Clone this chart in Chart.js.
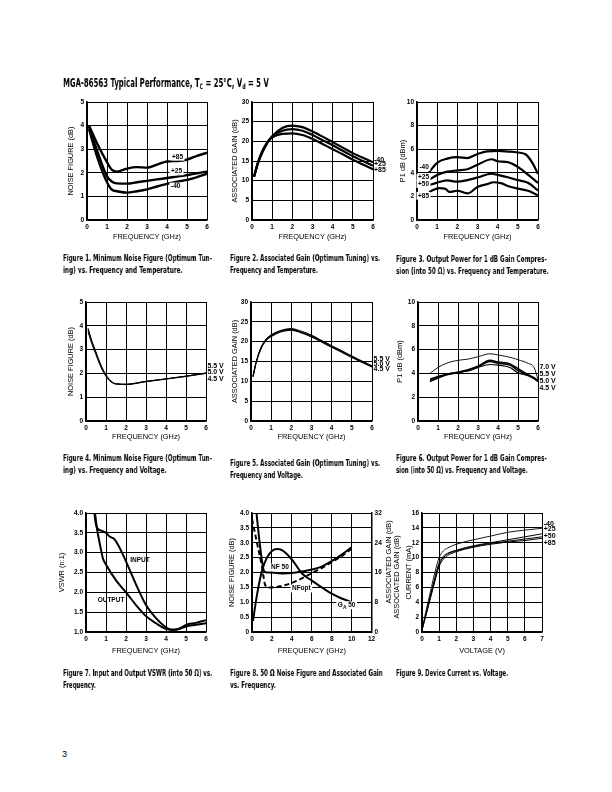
<!DOCTYPE html>
<html><head><meta charset="utf-8">
<script src="https://cdn.jsdelivr.net/npm/chart.js@4"></script>
<style>
body{margin:0;background:#fff;width:612px;height:792px;position:relative;overflow:hidden;}
canvas{position:absolute;}
.cap,.ttl{position:absolute;font-family:"Liberation Sans Narrow","DejaVu Sans Condensed",sans-serif;font-weight:bold;color:#000;white-space:nowrap;}
.cap{font-size:8.5px;line-height:12px;}
.cap span,.ttl span{display:inline-block;transform-origin:0 50%;will-change:transform;}
.ttl{font-size:11.5px;left:63px;top:76px;}
.ttl sub{font-size:7.5px;vertical-align:-2px;}
.pg{position:absolute;left:62px;top:749px;font:9px "Liberation Sans Narrow",sans-serif;color:#000;}
</style></head><body>
<div class="ttl"><span data-w="206">MGA-86563 Typical Performance, T<sub>C</sub> = 25°C, V<sub>d</sub> = 5 V</span></div>
<canvas id="c1"></canvas><canvas id="c2"></canvas><canvas id="c3"></canvas>
<canvas id="c4"></canvas><canvas id="c5"></canvas><canvas id="c6"></canvas>
<canvas id="c7"></canvas><canvas id="c8"></canvas><canvas id="c9"></canvas>
<div class="cap" style="left:63px;top:252px"><span data-w="149">Figure 1. Minimum Noise Figure (Optimum Tun-</span><br><span data-w="120">ing) vs. Frequency and Temperature.</span></div>
<div class="cap" style="left:230px;top:252px"><span data-w="150">Figure 2. Associated Gain (Optimum Tuning) vs.</span><br><span data-w="88">Frequency and Temperature.</span></div>
<div class="cap" style="left:396px;top:253px"><span data-w="151">Figure 3. Output Power for 1 dB Gain Compres-</span><br><span data-w="153">sion (into 50 Ω) vs. Frequency and Temperature.</span></div>
<div class="cap" style="left:63px;top:452px"><span data-w="149">Figure 4. Minimum Noise Figure (Optimum Tun-</span><br><span data-w="104">ing) vs. Frequency and Voltage.</span></div>
<div class="cap" style="left:230px;top:457px"><span data-w="150">Figure 5. Associated Gain (Optimum Tuning) vs.</span><br><span data-w="73">Frequency and Voltage.</span></div>
<div class="cap" style="left:396px;top:452px"><span data-w="151">Figure 6. Output Power for 1 dB Gain Compres-</span><br><span data-w="132">sion (into 50 Ω) vs. Frequency and Voltage.</span></div>
<div class="cap" style="left:63px;top:667px"><span data-w="149">Figure 7. Input and Output VSWR (into 50 Ω) vs.</span><br><span data-w="33">Frequency.</span></div>
<div class="cap" style="left:230px;top:667px"><span data-w="153">Figure 8. 50 Ω Noise Figure and Associated Gain</span><br><span data-w="46">vs. Frequency.</span></div>
<div class="cap" style="left:396px;top:667px"><span data-w="112">Figure 9. Device Current vs. Voltage.</span></div>
<div class="pg">3</div>
<script>
// Fig 1 - noise figure vs frequency & temperature
const f1Freq = [0.1, 0.5, 1.0, 1.25, 1.5, 2.0, 2.5, 3.0, 3.5, 4.0, 4.5, 5.0, 5.5, 6.0];
const f1Nf85 = [4.0, 3.25, 2.45, 2.12, 2.05, 2.18, 2.24, 2.22, 2.35, 2.48, 2.5, 2.56, 2.72, 2.85];
const f1Nf25 = [3.95, 2.95, 1.85, 1.62, 1.55, 1.54, 1.6, 1.66, 1.72, 1.78, 1.84, 1.9, 1.98, 2.05];
const f1NfM40 = [3.85, 2.7, 1.6, 1.28, 1.22, 1.16, 1.22, 1.3, 1.42, 1.53, 1.62, 1.7, 1.82, 1.96];

// Fig 2 - associated gain vs frequency & temperature
const f2Freq = [0.1, 0.3, 0.5, 0.75, 1.0, 1.5, 2.0, 2.5, 3.0, 3.5, 4.0, 4.5, 5.0, 5.5, 6.0];
const f2GM40 = [11, 14.5, 17, 19.5, 21.3, 23.4, 24.0, 23.6, 22.5, 21.2, 19.8, 18.4, 17.0, 15.8, 14.7];
const f2G25 = [11, 14.6, 17.2, 19.6, 21.2, 22.7, 23.1, 22.7, 21.6, 20.3, 19.0, 17.6, 16.2, 15.0, 13.8];
const f2G85 = [11, 14.7, 17.4, 19.7, 21.0, 21.9, 22.0, 21.6, 20.6, 19.3, 18.0, 16.7, 15.3, 14.1, 12.9];

// Fig 3 - P1dB vs frequency & temperature
const f3FreqM40 = [0.6, 1, 1.5, 2, 2.5, 3, 3.5, 4, 4.5, 5, 5.4, 5.7, 6];
const f3PM40 = [4.05, 4.85, 5.2, 5.32, 5.25, 5.6, 5.82, 5.85, 5.8, 5.72, 5.55, 4.9, 3.9];
const f3Freq = [0.6, 1, 1.5, 2, 2.5, 3, 3.7, 4, 4.5, 5, 5.5, 6];
const f3P25 = [3.4, 3.82, 4.1, 4.2, 4.3, 4.68, 5.15, 4.98, 4.9, 4.5, 3.85, 3.15];
const f3P50 = [2.95, 3.17, 3.35, 3.25, 3.38, 3.6, 3.92, 3.82, 3.62, 3.38, 3.15, 2.5];
const f3Freq85 = [0.6, 0.8, 1.1, 1.4, 1.6, 2, 2.5, 3, 3.5, 3.8, 4.2, 4.5, 5, 5.5, 6];
const f3P85 = [2.35, 2.55, 2.7, 2.65, 2.38, 2.48, 2.25, 2.8, 3.05, 3.2, 3.1, 2.88, 2.66, 2.48, 2.1];

// Fig 4 - noise figure vs frequency & voltage
const f4Freq = [0.1, 0.3, 0.5, 0.75, 1, 1.25, 1.5, 2, 3, 4, 5, 6];
const f4V55 = [3.9, 3.35, 2.9, 2.35, 1.95, 1.68, 1.57, 1.55, 1.67, 1.77, 1.89, 2.02];
const f4V50 = [3.85, 3.3, 2.85, 2.3, 1.9, 1.66, 1.56, 1.54, 1.66, 1.77, 1.88, 2.01];
const f4V45 = [3.75, 3.22, 2.78, 2.25, 1.87, 1.64, 1.55, 1.53, 1.65, 1.76, 1.87, 2.0];

// Fig 5 - associated gain vs frequency & voltage
const f5Freq = [0.1, 0.25, 0.5, 0.75, 1, 1.5, 2, 2.5, 3, 3.5, 4, 4.5, 5, 5.5, 6];
const f5V55 = [11.3, 14.8, 18.6, 20.6, 21.7, 22.9, 23.3, 22.6, 21.6, 20.3, 19.0, 17.7, 16.4, 15.1, 13.9];
const f5V50 = [11.2, 14.7, 18.5, 20.5, 21.5, 22.7, 23.1, 22.4, 21.4, 20.1, 18.8, 17.5, 16.2, 14.9, 13.7];
const f5V45 = [11.1, 14.6, 18.3, 20.3, 21.3, 22.5, 22.9, 22.2, 21.2, 19.9, 18.6, 17.3, 16.0, 14.8, 13.6];

// Fig 6 - P1dB vs frequency & voltage
const f6Freq = [0.6, 1, 1.5, 2, 2.5, 3, 3.6, 4, 4.6, 5, 5.5, 5.8, 6];
const f6V70 = [4.0, 4.5, 4.9, 5.1, 5.2, 5.4, 5.65, 5.55, 5.35, 5.15, 4.85, 4.5, 3.5];
const f6V55 = [3.5, 3.75, 3.95, 4.1, 4.3, 4.6, 5.1, 4.95, 4.8, 4.4, 3.9, 3.65, 3.4];
const f6V50 = [3.4, 3.7, 3.95, 4.1, 4.25, 4.55, 5.0, 4.85, 4.7, 4.25, 3.85, 3.6, 3.35];
const f6V45 = [3.3, 3.6, 3.9, 4.05, 4.2, 4.5, 4.75, 4.7, 4.5, 4.05, 3.8, 3.55, 3.3];

// Fig 7 - VSWR
const f7InFreq = [0.42, 0.5, 0.6, 0.8, 1.0, 1.2, 1.4, 1.6, 1.8, 2.0, 2.5, 3.0, 3.5, 4.0, 4.3, 4.6, 5.0, 5.5, 6.0];
const f7In = [4.0, 3.7, 3.6, 3.55, 3.5, 3.4, 3.35, 3.2, 3.0, 2.78, 2.2, 1.68, 1.35, 1.12, 1.06, 1.07, 1.14, 1.18, 1.22];
const f7OutFreq = [0.45, 0.55, 0.7, 0.85, 1.0, 1.5, 2.0, 2.5, 3.0, 3.5, 4.0, 4.4, 4.8, 5.0, 5.5, 6.0];
const f7Out = [4.0, 3.6, 3.2, 2.85, 2.7, 2.3, 2.0, 1.68, 1.4, 1.22, 1.08, 1.05, 1.12, 1.18, 1.23, 1.3];

// Fig 8 - 50 ohm NF, NFopt and associated gain
const f8Nf50Freq = [0.45, 0.7, 1.0, 1.2, 1.5, 2, 3, 4, 5, 6, 7, 8, 9, 10];
const f8Nf50 = [4.0, 3.2, 2.4, 2.05, 2.0, 2.0, 1.97, 1.98, 2.03, 2.1, 2.2, 2.38, 2.6, 2.85];
const f8NfoptFreq = [0, 0.5, 1.0, 1.3, 1.6, 2, 3, 4, 5, 6, 7, 8, 9, 10];
const f8Nfopt = [3.8, 3.0, 2.2, 1.6, 1.5, 1.5, 1.55, 1.65, 1.8, 1.98, 2.15, 2.35, 2.55, 2.8];
const f8GaFreq = [0.1, 0.5, 1.0, 1.5, 2, 2.5, 3, 4, 5, 6, 7, 8, 9, 10];
const f8Ga50 = [3, 10, 16.5, 20, 21.8, 22.3, 22, 19.5, 15.8, 13.8, 12, 10.3, 9, 8];

// Fig 9 - device current vs voltage
const f9Volt = [0, 0.25, 0.5, 0.75, 1, 1.25, 1.5, 2, 3, 4, 5, 6, 7];
const f9IM40 = [0.3, 3, 5.5, 8, 10.0, 10.9, 11.3, 11.8, 12.4, 12.9, 13.4, 13.7, 13.95];
const f9I25 = [0.3, 2.6, 5.0, 7.3, 9.3, 10.2, 10.6, 11.0, 11.6, 12.0, 12.4, 12.8, 13.2];
const f9I50 = [0.3, 2.5, 4.8, 7.0, 9.1, 10.0, 10.5, 10.9, 11.5, 11.9, 12.2, 12.5, 12.8];
const f9I85 = [0.3, 2.4, 4.6, 6.8, 8.8, 9.8, 10.3, 10.8, 11.4, 11.8, 12.1, 12.3, 12.6];

const FAM = '"Liberation Sans", Arial, sans-serif';
const TICK = {size: 6.5, weight: 'bold', family: FAM};
const TTL = {size: 7.4, family: FAM};

// fit caption lines to their measured widths
document.querySelectorAll('[data-w]').forEach(s => {
    s.style.transform = 'scaleX(' + (+s.dataset.w / s.offsetWidth) + ')';
});

function drawParts(ctx, parts, x, y, size, align, bg, bold) {
    const fonts = parts.map(p => (bold ? 'bold ' : '') + (p.sub ? size * 0.75 : size) + 'px ' + FAM);
    const widths = parts.map((p, i) => { ctx.font = fonts[i]; return ctx.measureText(p.t).width; });
    const total = widths.reduce((a, b) => a + b, 0);
    let sx = align === 'center' ? x - total / 2 : align === 'right' ? x - total : x;
    if (bg) {
        ctx.fillStyle = '#fff';
        ctx.fillRect(sx - 1.5, y - size * 0.6, total + 3, size * 1.2);
    }
    ctx.fillStyle = '#000';
    ctx.textAlign = 'left';
    ctx.textBaseline = 'middle';
    parts.forEach((p, i) => {
        ctx.font = fonts[i];
        ctx.fillText(p.t, sx, y + (p.sub ? size * 0.3 : 0));
        sx += widths[i];
    });
}

const txtPlugin = {
    id: 'txt',
    afterDraw(chart, args, opts) {
        const ctx = chart.ctx;
        const org = opts.origin || [0, 0];
        (opts.items || []).forEach(it => {
            let px, py;
            if (it.ax !== undefined) { px = it.ax - org[0]; py = it.ay - org[1]; }
            else {
                px = chart.scales.x.getPixelForValue(it.x);
                py = chart.scales[it.axis || 'y'].getPixelForValue(it.y);
            }
            const parts = it.parts || [{t: it.t}];
            ctx.save();
            ctx.translate(px, py);
            if (it.rot) ctx.rotate(it.rot);
            drawParts(ctx, parts, 0, 0, it.size || 6.5, it.align || 'left', it.bg, it.bold !== false);
            ctx.restore();
        });
    }
};

function axX(min, max, step, title) {
    return {
        type: 'linear', min, max,
        ticks: {stepSize: step, font: TICK, padding: 3, autoSkip: false, maxRotation: 0, color: '#000'},
        grid: {color: '#000', lineWidth: 1, drawTicks: false},
        border: {color: '#000', width: 1.5},
        title: {display: true, text: title, font: TTL, color: '#000', padding: 0}
    };
}

function axY(min, max, step, title, dec, pos) {
    return {
        type: 'linear', min, max, position: pos || 'left',
        ticks: {stepSize: step, font: TICK, padding: 3, autoSkip: false, color: '#000',
            callback: v => v === 0 ? '0' : v.toFixed(dec || 0)},
        grid: {color: '#000', lineWidth: 1, drawTicks: false, display: pos !== 'right'},
        border: {color: '#000', width: 1.5},
        title: {display: pos !== 'right', text: title, font: TTL, color: '#000', padding: 0}
    };
}

function line(xs, ys, w, extra) {
    return Object.assign({
        data: xs.map((x, i) => ({x, y: ys[i]})),
        borderColor: '#000', borderWidth: w, pointRadius: 0, fill: false,
        cubicInterpolationMode: 'monotone'
    }, extra || {});
}

function makeChart(id, box, xAx, yAx, y1Ax, datasets, items) {
    const lh = TTL.size * 1.2;
    const extraL = box.extraL || 0;
    const left = Math.round(box.yT - lh / 2) - extraL;
    const L = box.px - left - extraL;
    const T = 7;
    const B = box.xT + lh / 2 - (box.py + box.ph);
    const R = y1Ax ? (box.y1T + lh / 2) - (box.px + box.pw) : box.R;
    const W = Math.round(extraL + L + box.pw + R + 1);
    const H = Math.round(T + box.ph + B + 2);
    const top = box.py - T;
    const cv = document.getElementById(id);
    cv.width = W; cv.height = H;
    cv.style.left = left + 'px';
    cv.style.top = top + 'px';
    xAx.afterFit = s => { s.height = B; };
    yAx.afterFit = s => { s.width = L; };
    const scales = {x: xAx, y: yAx};
    if (y1Ax) {
        y1Ax.afterFit = s => { s.width = R; };
        scales.y1 = y1Ax;
        // right axis title reads bottom-to-top like the left one
        items.push({t: y1Ax.title.text, ax: box.y1T, ay: box.y1Y, rot: -Math.PI / 2,
            align: 'center', size: TTL.size, bold: false});
    }
    new Chart(cv, {
        type: 'line',
        data: {datasets},
        options: {
            responsive: false,
            animation: false,
            layout: {padding: {top: T, right: y1Ax ? 1 : R, left: extraL, bottom: H - T - box.ph - B}},
            scales,
            plugins: {legend: {display: false}, tooltip: {enabled: false}, txt: {items, origin: [left, top]}}
        },
        plugins: [txtPlugin]
    });
}

makeChart('c1', {px: 87, py: 102, pw: 119, ph: 118, yT: 71, xT: 237, R: 8},
    axX(0, 6, 1, 'FREQUENCY (GHz)'), axY(0, 5, 1, 'NOISE FIGURE (dB)'), null,
    [line(f1Freq, f1Nf85, 2.4), line(f1Freq, f1Nf25, 2.4), line(f1Freq, f1NfM40, 2.4)],
    [{t: '+85', x: 4.25, y: 2.68, bg: true}, {t: '+25', x: 4.2, y: 2.06, bg: true}, {t: '-40', x: 4.2, y: 1.42, bg: true}]);

makeChart('c2', {px: 252, py: 102, pw: 120, ph: 118, yT: 235, xT: 237, R: 20},
    axX(0, 6, 1, 'FREQUENCY (GHz)'), axY(0, 30, 5, 'ASSOCIATED GAIN (dB)'), null,
    [line(f2Freq, f2GM40, 2.2), line(f2Freq, f2G25, 2.2), line(f2Freq, f2G85, 2.2)],
    [{t: '-40', x: 6.05, y: 15.3, size: 7}, {t: '+25', x: 6.05, y: 14.1, size: 7}, {t: '+85', x: 6.05, y: 12.6, size: 7}]);

makeChart('c3', {px: 417, py: 102, pw: 120, ph: 118, yT: 403, xT: 237, R: 8},
    axX(0, 6, 1, 'FREQUENCY (GHz)'), axY(0, 10, 2, 'P1 dB (dBm)'), null,
    [line(f3FreqM40, f3PM40, 2.2), line(f3Freq, f3P25, 2.2), line(f3Freq, f3P50, 2.2), line(f3Freq85, f3P85, 2.2)],
    [{t: '-40', x: 0.12, y: 4.5, bg: true}, {t: '+25', x: 0.05, y: 3.6, bg: true},
     {t: '+50', x: 0.05, y: 3.05, bg: true}, {t: '+85', x: 0.05, y: 2.05, bg: true}]);

makeChart('c4', {px: 86, py: 302, pw: 119, ph: 119, yT: 71, xT: 437, R: 26},
    axX(0, 6, 1, 'FREQUENCY (GHz)'), axY(0, 5, 1, 'NOISE FIGURE (dB)'), null,
    [line(f4Freq, f4V55, 1), line(f4Freq, f4V50, 1), line(f4Freq, f4V45, 1)],
    [{t: '5.5 V', x: 6.07, y: 2.32, size: 7}, {t: '5.0 V', x: 6.07, y: 2.04, size: 7}, {t: '4.5 V', x: 6.07, y: 1.76, size: 7}]);

makeChart('c5', {px: 251, py: 302, pw: 120, ph: 119, yT: 235, xT: 437, R: 26},
    axX(0, 6, 1, 'FREQUENCY (GHz)'), axY(0, 30, 5, 'ASSOCIATED GAIN (dB)'), null,
    [line(f5Freq, f5V55, 1.1), line(f5Freq, f5V50, 1.1), line(f5Freq, f5V45, 1.1)],
    [{t: '5.5 V', x: 6.08, y: 15.6, size: 7}, {t: '5.0 V', x: 6.08, y: 14.4, size: 7}, {t: '4.5 V', x: 6.08, y: 13.2, size: 7}]);

makeChart('c6', {px: 418, py: 302, pw: 119, ph: 119, yT: 400, xT: 437, R: 26},
    axX(0, 6, 1, 'FREQUENCY (GHz)'), axY(0, 10, 2, 'P1 dB (dBm)'), null,
    [line(f6Freq, f6V70, 0.9), line(f6Freq, f6V55, 1.5), line(f6Freq, f6V50, 1.5), line(f6Freq, f6V45, 1.2)],
    [{t: '7.0 V', x: 6.07, y: 4.5, size: 7}, {t: '5.5 V', x: 6.07, y: 3.91, size: 7},
     {t: '5.0 V', x: 6.07, y: 3.38, size: 7}, {t: '4.5 V', x: 6.07, y: 2.8, size: 7}]);

makeChart('c7', {px: 86, py: 513, pw: 119, ph: 119, yT: 62, xT: 651, R: 8},
    axX(0, 6, 1, 'FREQUENCY (GHz)'), axY(1, 4, 0.5, 'VSWR (n:1)', 1), null,
    [line(f7InFreq, f7In, 2), line(f7OutFreq, f7Out, 2)],
    [{t: 'INPUT', x: 2.7, y: 2.82, align: 'center'}, {t: 'OUTPUT', x: 1.25, y: 1.8, align: 'center'}]);

makeChart('c8', {px: 252, py: 513, pw: 120, ph: 119, yT: 232, y1T: 389, y1Y: 562, xT: 651},
    axX(0, 12, 2, 'FREQUENCY (GHz)'), axY(0, 4, 0.5, 'NOISE FIGURE (dB)', 1),
    axY(0, 32, 8, 'ASSOCIATED GAIN (dB)', 0, 'right'),
    [line(f8Nf50Freq, f8Nf50, 2), line(f8NfoptFreq, f8Nfopt, 2, {borderDash: [5, 3]}),
     line(f8GaFreq, f8Ga50, 2, {yAxisID: 'y1'})],
    [{t: 'NF 50', x: 2.8, y: 2.17, align: 'center', bg: true},
     {t: 'NFopt', x: 4.95, y: 1.46, align: 'center', bg: true},
     {parts: [{t: 'G'}, {t: 'A', sub: true}, {t: ' 50'}], x: 9.5, y: 0.9, align: 'center', bg: true}]);

makeChart('c9', {px: 422, py: 513, pw: 119, ph: 119, yT: 409, xT: 651, R: 22, extraL: 14},
    axX(0, 7, 1, 'VOLTAGE (V)'), axY(0, 16, 2, 'CURRENT (mA)'), null,
    [line(f9Volt, f9IM40, 0.9), line(f9Volt, f9I25, 1), line(f9Volt, f9I50, 1), line(f9Volt, f9I85, 1)],
    [{t: '-40', x: 7.1, y: 14.5, size: 7}, {t: '+25', x: 7.1, y: 13.8, size: 7},
     {t: '+50', x: 7.1, y: 12.9, size: 7}, {t: '+85', x: 7.1, y: 12.0, size: 7},
     {t: 'ASSOCIATED GAIN (dB)', ax: 397, ay: 577, rot: -Math.PI / 2, align: 'center', size: 7.4, bold: false}]);
</script>
</body></html>
